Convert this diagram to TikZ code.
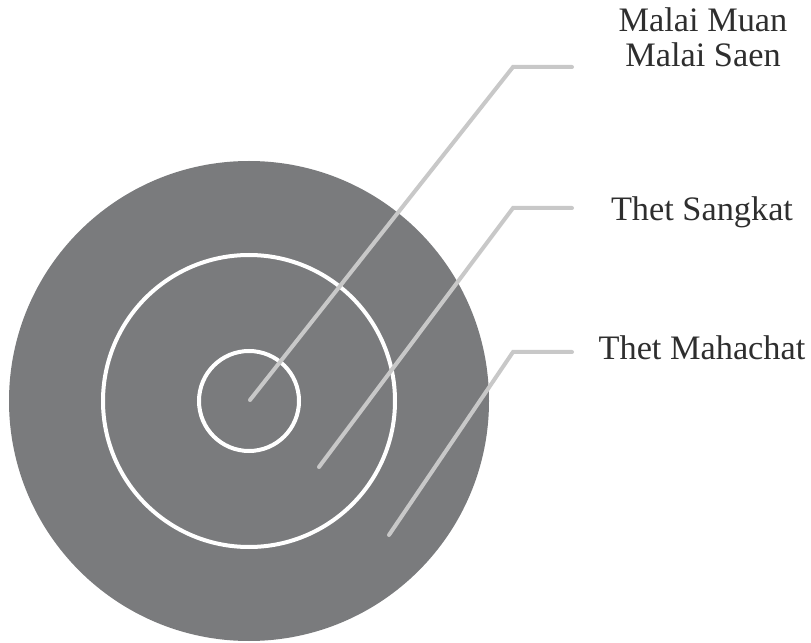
\documentclass[tikz,border=0pt]{standalone}
\usepackage{fontspec}
\setmainfont{Liberation Serif}
\definecolor{discgray}{HTML}{7A7B7D}
\definecolor{leadgray}{HTML}{C8C8C8}
\definecolor{textgray}{HTML}{2E2E2E}
\tikzset{
  ring/.style={draw=white, line width=4*0.025cm},
  leader/.style={draw=leadgray, line width=4*0.025cm, line cap=round},
  zonelabel/.style={font=\fontsize{24.4}{24.9}\selectfont, text=textgray, align=center, anchor=base, inner sep=0pt}
}
\begin{document}
\begin{tikzpicture}[x=0.025cm, y=-0.025cm]
    \useasboundingbox (0,0) rectangle (811,643);

    % Disc and rings
    \fill[discgray] (249,401) circle (240);
    \draw[ring] (249,401) circle (146);
    \draw[ring] (249,401) circle (50);

    % Labels
    \node[zonelabel] (muan) at (703,67) {Malai Muan\\Malai Saen};
    \node[zonelabel] (sangkat) at (702,221) {Thet Sangkat};
    \node[zonelabel] (mahachat) at (702,360) {Thet Mahachat};

    % Leader points
    \coordinate (inner) at (250,400);
    \coordinate (middle) at (319,467);
    \coordinate (outer) at (389,535);
    \coordinate (bendA) at (513,67);
    \coordinate (bendB) at (513,208);
    \coordinate (bendC) at (513,352);
    \coordinate (endA) at (572,67);
    \coordinate (endB) at (572,208);
    \coordinate (endC) at (572,352);

    % Leaders
    \draw[leader] (inner) -- (bendA) -- (endA);
    \draw[leader] (middle) -- (bendB) -- (endB);
    \draw[leader] (outer) -- (bendC) -- (endC);
\end{tikzpicture}
\end{document}
